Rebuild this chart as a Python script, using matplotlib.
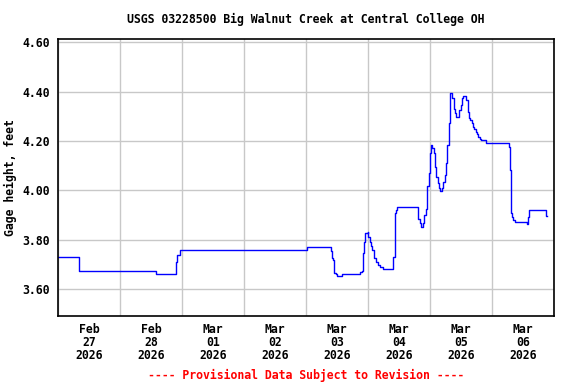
import matplotlib
matplotlib.use("Agg")
import matplotlib.pyplot as plt
import matplotlib.dates as mdates
import numpy as np
from datetime import datetime, timedelta

# hours since 2026-02-27 00:00
hours = [0.0, 8.0, 37.9, 45.4, 46.1, 47.1, 96.2, 105.4, 105.8, 106.2, 106.8, 107.4,
         108.0, 109.9, 116.8, 117.4, 117.8, 118.5, 118.8, 119.7, 120.0, 120.6, 121.1,
         121.6, 122.2, 123.0, 123.9, 124.5, 125.7, 127.2, 129.7, 130.2, 130.6, 131.0,
         139.4, 139.9, 140.3, 141.2, 141.7, 142.2, 142.8, 143.4, 143.8, 144.3, 144.8,
         145.3, 145.8, 146.3, 146.9, 147.4, 147.9, 148.5, 149.0, 149.6, 150.1, 150.6,
         151.1, 151.5, 152.5, 153.1, 153.6, 154.1, 155.2, 155.8, 156.3, 156.8, 157.9,
         158.5, 159.0, 159.5, 160.0, 160.5, 161.0, 161.6, 162.1, 162.6, 163.2, 163.7,
         165.7, 174.5, 175.0, 175.4, 175.7, 176.1, 176.8, 181.4, 181.8, 182.2, 188.8,
         189.0]
gage = [3.73, 3.675, 3.66, 3.71, 3.74, 3.76, 3.77, 3.755, 3.725, 3.72, 3.667, 3.66,
        3.654, 3.66, 3.669, 3.674, 3.746, 3.79, 3.829, 3.831, 3.813, 3.793, 3.775,
        3.759, 3.725, 3.709, 3.698, 3.692, 3.684, 3.681, 3.732, 3.91, 3.921, 3.932,
        3.883, 3.87, 3.851, 3.87, 3.901, 3.924, 4.018, 4.07, 4.151, 4.183, 4.171,
        4.151, 4.096, 4.056, 4.029, 4.011, 3.998, 4.009, 4.036, 4.063, 4.113, 4.184,
        4.272, 4.394, 4.373, 4.329, 4.313, 4.299, 4.326, 4.346, 4.373, 4.383, 4.366,
        4.319, 4.295, 4.285, 4.272, 4.258, 4.25, 4.238, 4.228, 4.218, 4.21, 4.203,
        4.191, 4.177, 4.083, 3.91, 3.894, 3.881, 3.871, 3.863, 3.894, 3.92, 3.898,
        3.898]

day_labels = ["Feb\n27\n2026", "Feb\n28\n2026", "Mar\n01\n2026", "Mar\n02\n2026",
              "Mar\n03\n2026", "Mar\n04\n2026", "Mar\n05\n2026", "Mar\n06\n2026"]
y_ticks = [3.60, 3.80, 4.00, 4.20, 4.40, 4.60]

start = datetime(2026, 2, 27)
times = [start + timedelta(hours=h) for h in hours]

FONT = "DejaVu Sans Mono"
plt.rcParams["font.family"] = FONT
plt.rcParams["font.weight"] = "bold"
FS = 8.3

fig = plt.figure(figsize=(5.76, 3.84), dpi=100)
ax = fig.add_axes([58.3 / 576, 1 - 316 / 384, 496 / 576, (316 - 39.3) / 384])

ax.plot(times, gage, color="#0000ff", lw=1.0, drawstyle="steps-post")

ax.set_xlim(start, start + timedelta(days=8))
ax.set_ylim(3.492, 4.612)

major = [start + timedelta(days=i) for i in range(9)]
ax.set_xticks(mdates.date2num(major))
ax.set_xticklabels([""] * len(major))
minor = [start + timedelta(days=i, hours=12) for i in range(8)]
ax.set_xticks(mdates.date2num(minor), minor=True)
ax.set_xticklabels(day_labels, minor=True, fontsize=FS, fontweight="bold",
                   linespacing=1.02)
ax.set_yticks(y_ticks)
ax.set_yticklabels([f"{v:.2f}" for v in y_ticks], fontsize=FS, fontweight="bold")
ax.tick_params(axis="both", which="both", length=0)
ax.tick_params(axis="x", which="minor", pad=5)
ax.tick_params(axis="y", pad=6)

ax.grid(True, which="major", color="#c8c8c8", lw=1.0)
ax.set_axisbelow(True)
for s in ax.spines.values():
    s.set_linewidth(1.2)
    s.set_color("black")

ax.set_ylabel("Gage height, feet", fontsize=FS, fontweight="bold", labelpad=4)
fig.text(306 / 576, 1 - 19 / 384, "USGS 03228500 Big Walnut Creek at Central College OH",
         ha="center", va="center", fontsize=FS, fontweight="bold")
fig.text(306 / 576, 1 - 375 / 384, "---- Provisional Data Subject to Revision ----",
         ha="center", va="center", fontsize=FS, fontweight="bold", color="red")

fig.savefig("out.png", dpi=100)
